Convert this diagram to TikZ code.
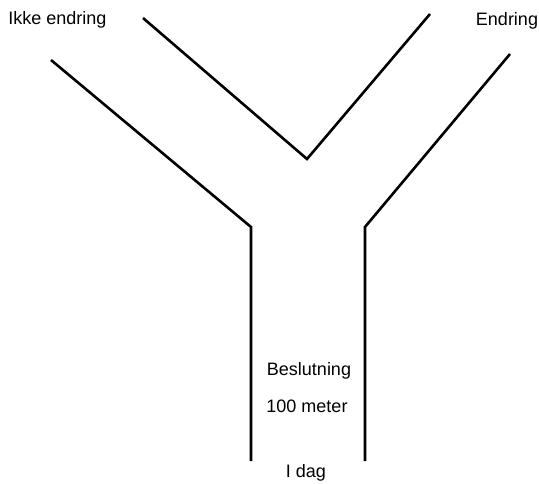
\documentclass[tikz,border=0pt]{standalone}
\usepackage{fontspec}
\setmainfont{Liberation Sans}
\begin{document}
\begin{tikzpicture}[x=1pt,y=-1pt,
  road/.style={line width=2.6pt,line cap=butt,line join=miter},
  lbl/.style={font=\fontsize{18}{20}\selectfont,inner sep=0pt,anchor=base}]
\useasboundingbox (0,0) rectangle (539,484);
\coordinate (lt) at (51,60);
\coordinate (lb) at (251,227);
\coordinate (ld) at (251,461);
\coordinate (it) at (143,18);
\coordinate (iv) at (307,159);
\coordinate (jt) at (430,14);
\coordinate (rt) at (510,54);
\coordinate (rb) at (365,227);
\coordinate (rd) at (365,461);
\draw[road] (lt) -- (lb) -- (ld);
\draw[road] (it) -- (iv) -- (jt);
\draw[road] (rt) -- (rb) -- (rd);
\node[lbl] (ikke) at (57.5,25) {Ikke endring};
\node[lbl] (endr) at (507,26) {Endring};
\node[lbl] (besl) at (309,375) {Beslutning};
\node[lbl] (m100) at (307,412) {100 meter};
\node[lbl] (idag) at (306,477) {I dag};
\end{tikzpicture}
\end{document}
